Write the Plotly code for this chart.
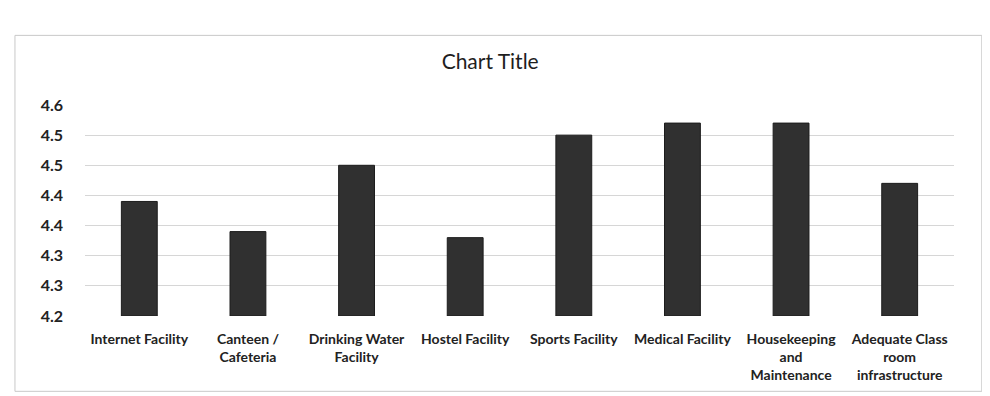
import plotly.graph_objects as go

categories = [
    "Internet Facility",
    "Canteen /<br>Cafeteria",
    "Drinking Water<br>Facility",
    "Hostel Facility",
    "Sports Facility",
    "Medical Facility",
    "Housekeeping<br>and<br>Maintenance",
    "Adequate Class<br>room<br>infrastructure",
]
values = [4.39, 4.34, 4.45, 4.33, 4.50, 4.52, 4.52, 4.42]
tick_vals = [4.20, 4.25, 4.30, 4.35, 4.40, 4.45, 4.50, 4.55]
tick_text = ["4.2", "4.3", "4.3", "4.4", "4.4", "4.5", "4.5", "4.6"]

FONT = "Lato, 'Open Sans', sans-serif"

fig = go.Figure()
fig.add_trace(go.Bar(
    x=categories,
    y=[v - 4.2 for v in values],
    base=4.2,
    marker=dict(color="#303030", line=dict(color="#1c1c1c", width=1)),
    hoverinfo="skip",
))

fig.update_layout(
    width=982, height=388,
    margin=dict(l=77, r=36, t=97, b=80, autoexpand=False),
    paper_bgcolor="white",
    plot_bgcolor="white",
    showlegend=False,
    bargap=0.67,
    font=dict(family=FONT, color="#222222"),
    title=dict(text="Chart Title", xref="container", x=0.491, xanchor="center",
               yref="container", y=1 - 54 / 388, yanchor="middle",
               font=dict(size=21, color="#1e1e1e", family=FONT)),
    xaxis=dict(
        showgrid=False, showline=False, ticks="",
        tickfont=dict(size=14, color="#222222", family=FONT, weight="bold"),
        tickangle=0,
        ticklabelstandoff=13,
    ),
    yaxis=dict(
        range=[4.2, 4.55],
        tickvals=tick_vals, ticktext=tick_text,
        showgrid=True, gridcolor="#d6d6d6", gridwidth=1,
        zeroline=False, showline=False, ticks="",
        tickfont=dict(size=16, color="#222222", family=FONT, weight="bold"),
        ticklabelstandoff=21,
    ),
)

fig.add_shape(type="rect", xref="paper", yref="paper",
              x0=-0.0806, x1=1.032, y0=-0.357, y1=1.33,
              line=dict(color="#c8c8c8", width=1), layer="below")

fig.write_html("out.html")
